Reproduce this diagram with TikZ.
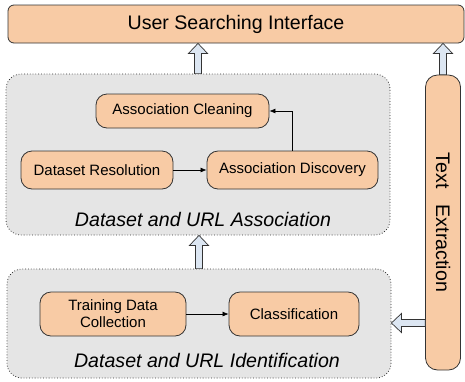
\documentclass[tikz,border=0pt]{standalone}
\usepackage{fontspec}
\setmainfont{Liberation Sans}
\usetikzlibrary{arrows.meta,calc}
\definecolor{peach}{HTML}{F8CBA5}
\definecolor{grp}{HTML}{E5E5E5}
\definecolor{arrfill}{HTML}{DCE6F2}
\definecolor{edge}{HTML}{333333}
\tikzset{
  box/.style={draw=edge,line width=0.8pt,fill=peach,rounded corners=11pt,align=center,inner sep=0pt,font=\fontsize{15}{17}\selectfont},
  group/.style={draw=edge,dotted,line width=0.8pt,fill=grp,rounded corners=15pt,inner sep=0pt},
  glabel/.style={font=\fontsize{19.6}{22}\selectfont\itshape},
  blockarrow/.style={draw=edge,line width=0.7pt,fill=arrfill,line join=miter},
  link/.style={draw=black,line width=0.7pt,-{Latex[length=6pt,width=5pt]}}
}
\newcommand\uparr[2]{\path[blockarrow] let \p1=(#1), \p2=(#2) in
  (\x1-3.5pt,\y1) -- (\x1-3.5pt,\y2-10pt) -- (\x1-9.5pt,\y2-10pt) -- (\x1,\y2) --
  (\x1+9.5pt,\y2-10pt) -- (\x1+3.5pt,\y2-10pt) -- (\x1+3.5pt,\y1) -- cycle;}
\newcommand\leftarr[2]{\path[blockarrow] let \p1=(#1), \p2=(#2) in
  (\x1,\y1+3.5pt) -- (\x2+10pt,\y1+3.5pt) -- (\x2+10pt,\y1+9.5pt) -- (\x2,\y1) --
  (\x2+10pt,\y1-9.5pt) -- (\x2+10pt,\y1-3.5pt) -- (\x1,\y1-3.5pt) -- cycle;}
\begin{document}
\begin{tikzpicture}[x=1pt,y=-1pt]
\useasboundingbox (0,0) rectangle (465,381);
% groups
\node[group,minimum width=384pt,minimum height=161pt] (assoc) at (198,154.5) {};
\node[group,minimum width=384pt,minimum height=109pt] (ident) at (199,323.5) {};
\node[glabel] (alabel) at (203,219) {Dataset and URL Association};
\node[glabel] (ilabel) at (207,360) {Dataset and URL Identification};
% top bar
\node[box,rounded corners=6pt,minimum width=456pt,minimum height=38pt,font=\fontsize{19.6}{22}\selectfont] (usi) at (236,24) {User Searching Interface};
% inner boxes
\node[box,minimum width=173pt,minimum height=34pt] (clean) at (182.5,111) {Association Cleaning};
\node[box,minimum width=152pt,minimum height=38pt] (res) at (97,170) {Dataset Resolution};
\node[box,minimum width=171pt,minimum height=38pt] (disc) at (292.5,170) {Association Discovery};
\node[box,minimum width=146pt,minimum height=44pt] (tdc) at (113,314) {Training Data\\Collection};
\node[box,minimum width=130pt,minimum height=44pt] (cls) at (294,314) {Classification};
% text extraction
\node[box,rounded corners=12pt,minimum width=35pt,minimum height=295pt] (tx) at (443,222.5) {};
\node[rotate=-90,font=\fontsize{19.6}{22}\selectfont] (txl) at (tx.center) {Text\hspace{16pt}Extraction};
% connectors
\draw[link] (res) -- (disc);
\draw[link] (tdc) -- (cls);
\draw[link] (disc.north) |- (clean.east);
% block arrows
\uparr{assoc.north}{usi.south -| assoc.north}
\uparr{ident.north}{assoc.south -| ident.north}
\uparr{tx.north}{usi.south -| tx.north}
\coordinate (la) at (tx.west |- 0,323);
\leftarr{la}{la -| ident.east}
\end{tikzpicture}
\end{document}
